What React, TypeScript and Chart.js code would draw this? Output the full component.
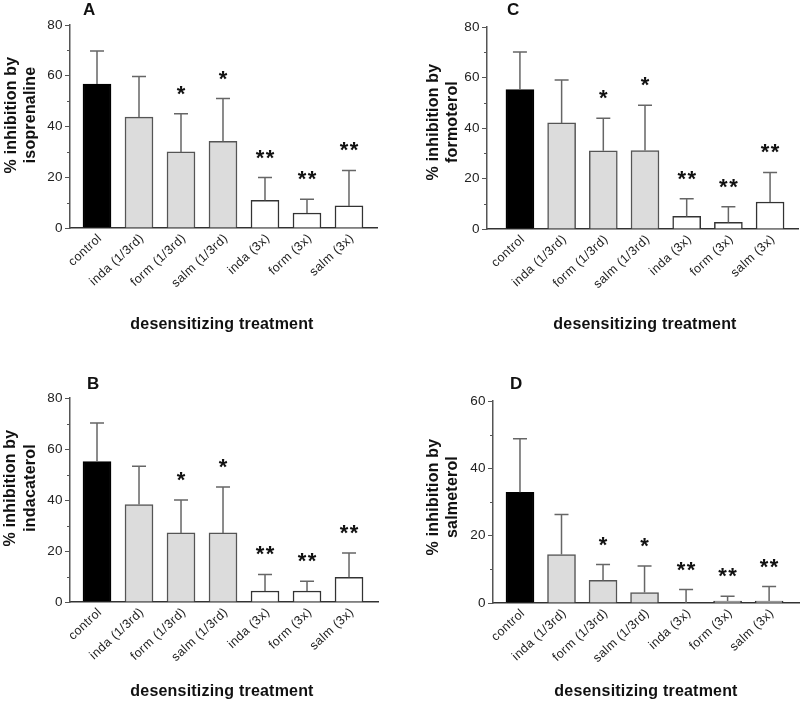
import React, { useEffect, useRef } from 'react';
import { Chart, registerables } from 'chart.js';

Chart.register(...registerables);

// ---------- data ----------
const categories = ['control', 'inda (1/3rd)', 'form (1/3rd)', 'salm (1/3rd)', 'inda (3x)', 'form (3x)', 'salm (3x)'];
const significance = ['', '', '*', '*', '**', '**', '**'];

const isoprenalineMean = [56.7, 43.7, 30.0, 34.2, 10.9, 5.9, 8.7];
const isoprenalineSem = [13.1, 16.0, 15.0, 16.8, 9.0, 5.4, 14.0];

const formoterolMean = [55.2, 42.0, 31.0, 31.1, 5.0, 2.6, 10.7];
const formoterolSem = [14.9, 17.0, 12.9, 17.9, 7.0, 6.2, 11.7];

const indacaterolMean = [55.1, 38.2, 27.1, 27.1, 4.3, 4.3, 9.7];
const indacaterolSem = [15.1, 15.0, 12.9, 18.0, 6.5, 3.8, 9.5];

const salmeterolMean = [32.9, 14.4, 6.7, 3.1, 0, 0.6, 0.6];
const salmeterolSem = [15.9, 11.9, 4.7, 7.9, 4.0, 1.4, 4.3];

const yTicks80 = [0, 20, 40, 60, 80];
const yTicks60 = [0, 20, 40, 60];

// ---------- styles ----------
const barFills = ['#000000', '#dcdcdc', '#dcdcdc', '#dcdcdc', '#ffffff', '#ffffff', '#ffffff'];
const barBorders = ['#000000', '#555555', '#555555', '#555555', '#333333', '#333333', '#333333'];
const FONT = '"Liberation Sans", Arial, sans-serif';

type PanelProps = {
  letter: string;
  yTitle: string[];
  means: number[];
  sems: number[];
  yTicks: number[];
  box: { left: number; top: number; width: number; height: number };
  area: { left: number; right: number; top: number; bottom: number };
  xMin: number;
  xMax: number;
  letterPos: [number, number];
  yTitleX: [number, number];
  yTitleY: number;
  xTitlePos: [number, number];
};

const annotPlugin = {
  id: 'annot',
  beforeDraw(chart: any) {
    (chart.ctx as any).letterSpacing = '0.4px';
  },
  afterDatasetsDraw(chart: any, _args: any, opts: any) {
    const ctx = chart.ctx;
    const meta = chart.getDatasetMeta(0);
    const ys = chart.scales.y;
    ctx.save();
    ctx.strokeStyle = '#666666';
    ctx.lineWidth = 1.5;
    opts.means.forEach((m: number, i: number) => {
      const bar = meta.data[i];
      const x = bar.x;
      const y0 = ys.getPixelForValue(m);
      const y1 = ys.getPixelForValue(m + opts.sems[i]);
      ctx.beginPath();
      ctx.moveTo(x, y0);
      ctx.lineTo(x, y1);
      ctx.moveTo(x - 7, y1);
      ctx.lineTo(x + 7, y1);
      ctx.stroke();
      const s = opts.stars[i];
      if (s) {
        ctx.fillStyle = '#111111';
        (ctx as any).letterSpacing = '1.5px';
        ctx.font = `bold 22px ${FONT}`;
        ctx.textAlign = 'center';
        ctx.textBaseline = 'alphabetic';
        ctx.fillText(s, x + 0.75, y1 - 13);
      }
    });
    ctx.restore();
  },
  afterDraw(chart: any, _args: any, opts: any) {
    const ctx = chart.ctx;
    const ys = chart.scales.y;
    const ca = chart.chartArea;
    ctx.save();
    // minor ticks
    ctx.strokeStyle = '#555555';
    ctx.lineWidth = 1;
    for (let v = 10; v < ys.max; v += 20) {
      const py = Math.round(ys.getPixelForValue(v)) + 0.5;
      ctx.beginPath();
      ctx.moveTo(ca.left - 3, py);
      ctx.lineTo(ca.left, py);
      ctx.stroke();
    }
    ctx.fillStyle = '#111111';
    // panel letter
    (ctx as any).letterSpacing = '0px';
    ctx.font = `bold 17px ${FONT}`;
    ctx.textAlign = 'left';
    ctx.textBaseline = 'alphabetic';
    ctx.fillText(opts.letter, opts.letterPos[0], opts.letterPos[1]);
    // x title
    (ctx as any).letterSpacing = '0.2px';
    ctx.font = `bold 16px ${FONT}`;
    ctx.textAlign = 'center';
    ctx.fillText('desensitizing treatment', opts.xTitlePos[0], opts.xTitlePos[1]);
    // y title
    opts.yTitle.forEach((line: string, k: number) => {
      ctx.save();
      ctx.translate(opts.yTitleX[k], opts.yTitleY);
      ctx.rotate(-Math.PI / 2);
      ctx.textAlign = 'center';
      ctx.textBaseline = 'alphabetic';
      ctx.fillText(line, 0, 0);
      ctx.restore();
    });
    ctx.restore();
  },
};

function Panel(p: PanelProps) {
  const ref = useRef<HTMLCanvasElement>(null);
  useEffect(() => {
    const canvas = ref.current!;
    const W = p.box.width;
    const H = p.box.height;
    const chart = new Chart(canvas, {
      type: 'bar',
      data: {
        datasets: [
          {
            data: p.means.map((v, i) => ({ x: i, y: v })),
            backgroundColor: barFills,
            borderColor: barBorders,
            borderWidth: 1.5,
            barThickness: 28,
          },
        ],
      },
      options: {
        responsive: false,
        animation: false,
        devicePixelRatio: 1,
        layout: {
          padding: { left: 0, top: p.area.top, right: W - p.area.right, bottom: 0 },
        },
        plugins: {
          legend: { display: false },
          tooltip: { enabled: false },
          title: { display: false },
          annot: {
            means: p.means,
            sems: p.sems,
            stars: significance,
            letter: p.letter,
            letterPos: p.letterPos,
            yTitle: p.yTitle,
            yTitleX: p.yTitleX,
            yTitleY: p.yTitleY,
            xTitlePos: p.xTitlePos,
          },
        } as any,
        scales: {
          x: {
            type: 'linear',
            min: p.xMin,
            max: p.xMax,
            offset: false,
            grid: { display: false, offset: false, drawTicks: false },
            border: { display: true, color: '#333333', width: 1.5 },
            afterBuildTicks: (s: any) => {
              s.ticks = categories.map((_, i) => ({ value: i }));
            },
            afterFit: (s: any) => {
              s.height = H - p.area.bottom;
            },
            ticks: {
              autoSkip: false,
              minRotation: 43,
              maxRotation: 43,
              padding: 3,
              labelOffset: 3,
              color: '#222222',
              font: { family: FONT, size: 12.5 },
              callback: (v: any) => categories[Math.round(Number(v))] ?? '',
            },
          },
          y: {
            type: 'linear',
            min: 0,
            max: p.yTicks[p.yTicks.length - 1],
            afterBuildTicks: (s: any) => {
              s.ticks = p.yTicks.map((v) => ({ value: v }));
            },
            afterFit: (s: any) => {
              s.width = p.area.left;
            },
            grid: {
              display: true,
              drawOnChartArea: false,
              drawTicks: true,
              tickLength: 5,
              color: '#555555',
              lineWidth: 1,
            },
            border: { display: true, color: '#555555', width: 1.5 },
            ticks: {
              padding: 2,
              color: '#222222',
              font: { family: FONT, size: 13.5 },
            },
          },
        },
      },
      plugins: [annotPlugin],
    } as any);
    return () => chart.destroy();
  }, []);
  return (
    <canvas
      ref={ref}
      width={p.box.width}
      height={p.box.height}
      style={{ position: 'absolute', left: p.box.left, top: p.box.top, width: p.box.width, height: p.box.height }}
    />
  );
}

export default function App() {
  return (
    <div style={{ position: 'absolute', left: 0, top: 0, width: 800, height: 702, background: '#ffffff', overflow: 'hidden' }}>
      <Panel
        letter="A"
        yTitle={['% inhibition by', 'isoprenaline']}
        means={isoprenalineMean}
        sems={isoprenalineSem}
        yTicks={yTicks80}
        box={{ left: 0, top: 0, width: 400, height: 351 }}
        area={{ left: 70, right: 377, top: 25, bottom: 228 }}
        xMin={-0.643}
        xMax={6.667}
        letterPos={[83, 15]}
        yTitleX={[15.5, 34.5]}
        yTitleY={115}
        xTitlePos={[222, 329]}
      />
      <Panel
        letter="C"
        yTitle={['% inhibition by', 'formoterol']}
        means={formoterolMean}
        sems={formoterolSem}
        yTicks={yTicks80}
        box={{ left: 400, top: 0, width: 400, height: 351 }}
        area={{ left: 87, right: 398, top: 27, bottom: 229 }}
        xMin={-0.79}
        xMax={6.67}
        letterPos={[107, 15]}
        yTitleX={[37.5, 57]}
        yTitleY={122}
        xTitlePos={[245, 329]}
      />
      <Panel
        letter="B"
        yTitle={['% inhibition by', 'indacaterol']}
        means={indacaterolMean}
        sems={indacaterolSem}
        yTicks={yTicks80}
        box={{ left: 0, top: 351, width: 400, height: 351 }}
        area={{ left: 70, right: 378, top: 47, bottom: 251 }}
        xMin={-0.643}
        xMax={6.69}
        letterPos={[87, 38]}
        yTitleX={[15, 35]}
        yTitleY={137}
        xTitlePos={[222, 345]}
      />
      <Panel
        letter="D"
        yTitle={['% inhibition by', 'salmeterol']}
        means={salmeterolMean}
        sems={salmeterolSem}
        yTicks={yTicks60}
        box={{ left: 400, top: 351, width: 400, height: 351 }}
        area={{ left: 93, right: 399, top: 50, bottom: 252 }}
        xMin={-0.65}
        xMax={6.72}
        letterPos={[110, 38]}
        yTitleX={[37.5, 57]}
        yTitleY={146}
        xTitlePos={[246, 345]}
      />
    </div>
  );
}
